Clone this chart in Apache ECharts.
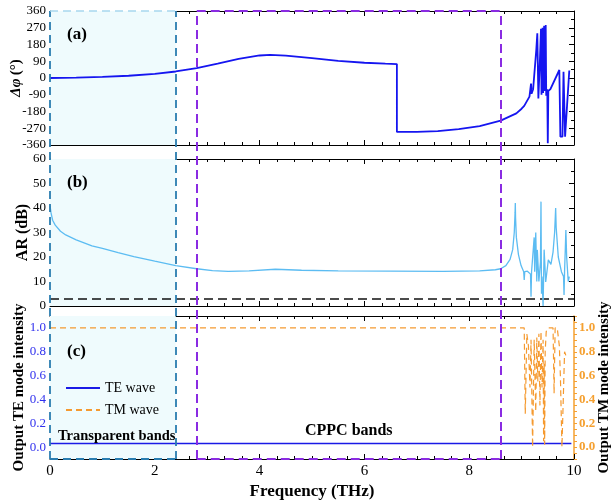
<!DOCTYPE html>
<html><head><meta charset="utf-8">
<script src="https://cdn.jsdelivr.net/npm/echarts@6/dist/echarts.min.js"></script>
<style>html,body{margin:0;padding:0;background:#fff}#c{width:611px;height:500px}</style>
</head><body><div id="c"></div>
<script>
// ---- data ----
const phaseFreq = [0,0.5,1,1.5,2,2.4,2.8,3.2,3.6,4.0,4.2,4.5,5.0,5.5,6.0,6.4,6.62,6.62,7.0,7.4,7.8,8.2,8.6,8.9,9.0,9.05,9.07,9.08,9.15,9.18,9.19,9.22,9.28,9.30,9.32,9.35,9.37,9.38,9.40,9.41,9.43,9.44,9.46,9.47,9.49,9.50,9.51,9.55,9.72,9.74,9.78,9.80,9.83,9.91];
const phaseVal  = [0,2,6,12,22,35,53,77,103,121,124,120,107,92,82,77,75,-290,-289,-285,-275,-258,-229,-190,-165,-150,-160,-145,-100,-30,-85,-60,150,240,-110,100,265,-90,270,-80,280,-70,285,-95,-60,-350,-70,-60,43,-315,-315,34,-315,40];

const arFreq = [0,0.02,0.05,0.1,0.2,0.3,0.5,0.8,1.0,1.3,1.6,2.0,2.4,2.8,3.1,3.4,3.8,4.3,4.8,5.5,6.5,7.5,8.2,8.5,8.6,8.7,8.78,8.83,8.86,8.875,8.88,8.885,8.9,8.94,8.99,9.04,9.05,9.06,9.11,9.17,9.18,9.19,9.24,9.25,9.27,9.29,9.30,9.33,9.36,9.37,9.38,9.39,9.41,9.43,9.46,9.51,9.56,9.6,9.63,9.65,9.66,9.7,9.76,9.8,9.81,9.82,9.835,9.845,9.86,9.89,9.91];
const arVal  = [41,38,35,33,30.5,29,27,24.5,23.5,21.8,20.2,18.3,16.5,15.2,14.4,14.1,14.3,15,14.6,14.3,14.2,14.1,14.3,14.8,15.2,16.5,19,23,30,38,42,36,28,21,16.5,14,10.6,14,14.2,13,3.8,14,28,14,30,10,22.9,10,18,42.6,5,12,0,23,9.8,18.8,17,22,30,40,32,20,14,12,4.5,14,24,31,20,10,12];

const teFreq = [0, 9.95];
const teVal  = [0.03, 0.03];

const tmFreq = [0,9.05,9.07,9.10,9.13,9.16,9.18,9.21,9.24,9.27,9.29,9.31,9.33,9.35,9.37,9.39,9.41,9.42,9.43,9.44,9.45,9.47,9.50,9.60,9.62,9.64,9.68,9.72,9.74,9.77,9.79,9.82,9.86];
const tmVal  = [1,1,0.28,0.95,0.85,0.5,0.9,0.0,0.9,0.3,0.92,0.55,0.95,0.35,0.97,0.5,0.9,0.05,0.7,0.02,0.8,0.97,1.0,1.0,0.45,1.0,1.0,0.85,0.6,0.0,0.0,0.8,0.75];

const arThreshold = 3;
const transparentBand = [0, 2.4];
const cppcBand = [2.8, 8.6];

// ---- helpers ----
const zip = (a, b) => a.map((v, i) => [v, b[i]]);
const FONT = 'Liberation Serif';
const chart = echarts.init(document.getElementById('c'));

const G = [
  {left: 50, right: 37, top: 11, height: 134, outerBoundsMode: 'none', containLabel: false},
  {left: 50, right: 37, top: 159, height: 147, outerBoundsMode: 'none', containLabel: false},
  {left: 50, right: 37, top: 316, height: 143, outerBoundsMode: 'none', containLabel: false},
  {left: 50, right: 37, top: 11, height: 448, outerBoundsMode: 'none', containLabel: false}
];

function xAx(grid, pos, labels) {
  return {
    type: 'value', gridIndex: grid, position: pos, min: 0, max: 10, interval: 2,
    axisLine: {show: true, onZero: false, lineStyle: {color: '#000', width: 1}},
    axisTick: {show: true, inside: true, length: 5, lineStyle: {color: '#000'}},
    minorTick: {show: true, splitNumber: 6, length: 3, lineStyle: {color: '#000'}},
    axisLabel: {show: labels, fontFamily: FONT, fontSize: 15, color: '#000', margin: 5},
    splitLine: {show: false},
    name: labels ? 'Frequency (THz)' : '',
    nameLocation: 'middle', nameGap: 24, nameMoveOverlap: false,
    nameTextStyle: {fontFamily: FONT, fontSize: 17, fontWeight: 'bold', color: '#000'}
  };
}
function yAx(grid, pos, min, max, interval, split, labels, extra) {
  return Object.assign({
    type: 'value', gridIndex: grid, position: pos, min: min, max: max, interval: interval,
    nameMoveOverlap: false,
    axisLine: {show: true, onZero: false, lineStyle: {color: '#000', width: 1}},
    axisTick: {show: true, inside: true, length: 5, lineStyle: {color: '#000'}},
    minorTick: {show: split > 0, splitNumber: split || 1, length: 3, lineStyle: {color: '#000'}},
    axisLabel: {show: labels, fontFamily: FONT, fontSize: 13, color: '#000', margin: 4},
    splitLine: {show: false}
  }, extra || {});
}

const option = {
  backgroundColor: '#fff',
  animation: false,
  grid: G,
  title: [
    {text: '(a)', left: 62, top: 21, textStyle: {fontFamily: FONT, fontSize: 17, fontWeight: 'bold', color: '#000'}},
    {text: '(b)', left: 62, top: 169, textStyle: {fontFamily: FONT, fontSize: 17, fontWeight: 'bold', color: '#000'}},
    {text: '(c)', left: 62, top: 338, textStyle: {fontFamily: FONT, fontSize: 17, fontWeight: 'bold', color: '#000'}},
    {text: 'Transparent bands', left: 53, top: 424, textStyle: {fontFamily: FONT, fontSize: 14.5, fontWeight: 'bold', color: '#000'}},
    {text: 'CPPC bands', left: 300, top: 418, textStyle: {fontFamily: FONT, fontSize: 16, fontWeight: 'bold', color: '#000'}}
  ],
  legend: {
    left: 60, top: 376, orient: 'vertical', itemWidth: 34, itemHeight: 12, itemGap: 8,
    textStyle: {fontFamily: FONT, fontSize: 14, color: '#000'},
    itemStyle: {color: 'rgba(0,0,0,0)', borderWidth: 0},
    data: ['TE wave', 'TM wave']
  },
  xAxis: [
    xAx(0, 'bottom', false), xAx(0, 'top', false),
    xAx(1, 'bottom', false), xAx(1, 'top', false),
    xAx(2, 'bottom', true), xAx(2, 'top', false),
    {type: 'value', gridIndex: 3, min: 0, max: 10, show: false}
  ],
  yAxis: [
    yAx(0, 'left', -360, 360, 90, 2, true, {
      name: '{i|Δφ} {b|(°)}', nameLocation: 'middle', nameGap: 26, nameRotate: 90,
      nameTextStyle: {rich: {
        i: {fontFamily: FONT, fontSize: 15, fontWeight: 'bold', fontStyle: 'italic', color: '#000'},
        b: {fontFamily: FONT, fontSize: 15, fontWeight: 'bold', color: '#000'}}}
    }),
    yAx(0, 'right', -360, 360, 90, 2, false),
    yAx(1, 'left', 0, 60, 10, 2, true, {
      name: 'AR (dB)', nameLocation: 'middle', nameGap: 19, nameRotate: 90,
      nameTextStyle: {fontFamily: FONT, fontSize: 16, fontWeight: 'bold', color: '#000'}
    }),
    yAx(1, 'right', 0, 60, 10, 2, false),
    yAx(2, 'left', -0.1, 1.1, 0.1, 0, true, {
      axisLine: {show: true, onZero: false, lineStyle: {color: '#2222ee', width: 1}},
      axisTick: {show: true, inside: true, length: 4, lineStyle: {color: '#2222ee'}},
      axisLabel: {show: true, fontFamily: FONT, fontSize: 13, color: '#3030ee', margin: 4,
        formatter: v => { const k = Math.round(v * 10); return (k >= 0 && k % 2 === 0) ? (k / 10).toFixed(1) : ''; }},
      name: 'Output TE mode intensity', nameLocation: 'middle', nameGap: 23, nameRotate: 90,
      nameTextStyle: {fontFamily: FONT, fontSize: 15, fontWeight: 'bold', color: '#000'}
    }),
    yAx(2, 'right', -0.1, 1.1, 0.05, 0, true, {
      axisLine: {show: true, onZero: false, lineStyle: {color: '#f5a030', width: 1.5}},
      axisTick: {show: true, inside: false, length: 3, lineStyle: {color: '#f5a030'}},
      axisLabel: {show: true, fontFamily: FONT, fontSize: 13, fontWeight: 'bold', color: '#f5a030', margin: 5,
        formatter: v => { const k = Math.round(v * 20); return (k >= 0 && k % 4 === 0) ? (k / 20).toFixed(1) : ''; }},
      name: 'Output TM mode intensity', nameLocation: 'middle', nameGap: 23, nameRotate: 90,
      nameTextStyle: {fontFamily: FONT, fontSize: 15, fontWeight: 'bold', color: '#000'}
    }),
    {type: 'value', gridIndex: 3, min: 0, max: 1, show: false}
  ],
  series: [
    {
      type: 'line', name: 'phase', xAxisIndex: 0, yAxisIndex: 0, data: zip(phaseFreq, phaseVal),
      showSymbol: false, symbol: 'none', smooth: false, lineStyle: {color: '#1515f0', width: 1.8}, z: 5,
      markArea: {silent: true, itemStyle: {color: '#effbfd'}, data: [[{xAxis: transparentBand[0]}, {xAxis: transparentBand[1]}]]}
    },
    {
      type: 'line', name: 'AR', xAxisIndex: 2, yAxisIndex: 2, data: zip(arFreq, arVal),
      showSymbol: false, symbol: 'none', lineStyle: {color: '#5cbcf2', width: 1.3}, z: 5,
      markArea: {silent: true, itemStyle: {color: '#effbfd'}, data: [[{xAxis: transparentBand[0]}, {xAxis: transparentBand[1]}]]},
      markLine: {silent: true, symbol: 'none', label: {show: false},
        lineStyle: {color: '#111', type: [9, 5], width: 1.6}, data: [{yAxis: arThreshold}]}
    },
    {
      type: 'line', name: 'TE wave', xAxisIndex: 4, yAxisIndex: 4, data: zip(teFreq, teVal),
      showSymbol: false, symbol: 'none', lineStyle: {color: '#1a1ae6', width: 1.3}, itemStyle: {color: '#1a1ae6'}, z: 5,
      markArea: {silent: true, itemStyle: {color: '#effbfd'}, data: [[{xAxis: transparentBand[0]}, {xAxis: transparentBand[1]}]]}
    },
    {
      type: 'line', name: 'TM wave', xAxisIndex: 4, yAxisIndex: 5, data: zip(tmFreq, tmVal),
      showSymbol: false, symbol: 'none', lineStyle: {color: '#f59a30', width: 1.2, type: [6, 4]}, itemStyle: {color: '#f59a30'}, z: 5
    },
    {
      type: 'lines', coordinateSystem: 'cartesian2d', xAxisIndex: 6, yAxisIndex: 6, z: 10, silent: true,
      lineStyle: {color: '#2a7db0', width: 1.8, type: [8, 5], opacity: 1},
      data: [
        {coords: [[transparentBand[1], 0], [transparentBand[1], 1]]},
        {coords: [[transparentBand[0], 0], [transparentBand[0], 1]]},
        {coords: [[transparentBand[0], 0], [transparentBand[1], 0]]},
        {coords: [[transparentBand[0], 1], [transparentBand[1], 1]], lineStyle: {color: '#a8d8ee', width: 1.5}}
      ]
    },
    {
      type: 'lines', coordinateSystem: 'cartesian2d', xAxisIndex: 6, yAxisIndex: 6, z: 11, silent: true,
      lineStyle: {color: '#8a2be2', width: 2, type: [9, 5], opacity: 1},
      data: [
        {coords: [[cppcBand[0], 0], [cppcBand[0], 1]]},
        {coords: [[cppcBand[1], 0], [cppcBand[1], 1]]},
        {coords: [[cppcBand[0], 1], [cppcBand[1], 1]]},
        {coords: [[cppcBand[0], 0], [cppcBand[1], 0]]}
      ]
    }
  ]
};
chart.setOption(option);
</script></body></html>
